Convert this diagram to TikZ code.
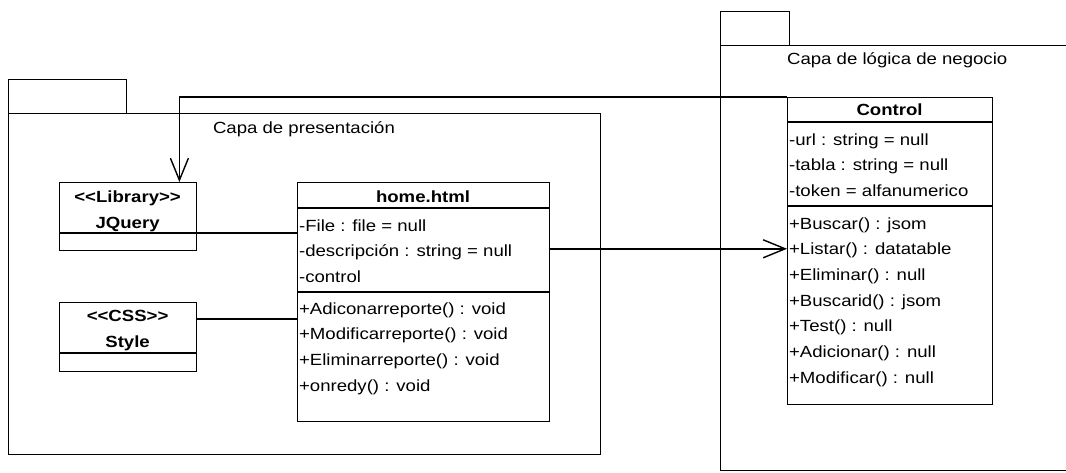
\documentclass[tikz,border=0pt]{standalone}
\usepackage{fontspec}
\setmainfont[FakeStretch=1.15]{Liberation Sans}
\usetikzlibrary{positioning, arrows.meta, calc}
\tikzstyle{pkg_box}=[draw, line width=1pt, inner sep=0pt, anchor=north west]
\tikzstyle{class_box}=[draw, line width=1pt, inner sep=0pt, anchor=north west]
\tikzstyle{member}=[anchor=base west, inner sep=0pt, font=\fontsize{11.5}{14}\selectfont]
\tikzstyle{class_title}=[anchor=base, inner sep=0pt, font=\fontsize{11.5}{14}\selectfont\bfseries]
\tikzstyle{pkg_title}=[anchor=base, inner sep=0pt, font=\fontsize{11.5}{14}\selectfont]
\tikzstyle{dep}=[-{Straight Barb[length=5.5mm, width=4.5mm]}, line width=1pt]

\begin{document}
\begin{tikzpicture}
    \useasboundingbox (0,0) rectangle (26.65,-11.8);

    % packages
    \node[pkg_box, minimum width=2.95cm, minimum height=0.85cm] at (0.2, -1.975) (presTab) {};
    \node[pkg_box, minimum width=14.8cm, minimum height=8.525cm] at (0.2, -2.825) (pres) {};
    \node[pkg_title] at (7.6, -3.325) (presName) {Capa de presentación};

    \node[pkg_box, minimum width=1.725cm, minimum height=0.85cm] at (18.0, -0.275) (logicTab) {};
    \node[pkg_box, minimum width=9.5cm, minimum height=10.625cm] at (18.0, -1.125) (logic) {};
    \node[pkg_title] at (22.43, -1.6) (logicName) {Capa de lógica de negocio};

    % classes
    \node[class_box, minimum width=3.425cm, minimum height=1.7cm] at (1.475, -4.55) (jq) {};
    \draw[line width=1pt] (jq.west |- 0,-5.825) -- (jq.east |- 0,-5.825);
    \node[class_title] at (3.19, -5.05) (jqSt) {<{}<Library>{}>};
    \node[class_title] at (3.19, -5.7) (jqName) {JQuery};

    \node[class_box, minimum width=3.425cm, minimum height=1.725cm] at (1.475, -7.55) (css) {};
    \draw[line width=1pt] (css.west |- 0,-8.825) -- (css.east |- 0,-8.825);
    \node[class_title] at (3.19, -8.025) (cssSt) {<{}<CSS>{}>};
    \node[class_title] at (3.19, -8.675) (cssName) {Style};

    \node[class_box, minimum width=6.3cm, minimum height=5.975cm] at (7.425, -4.55) (home) {};
    \draw[line width=1pt] (home.west |- 0,-5.2) -- (home.east |- 0,-5.2);
    \draw[line width=1pt] (home.west |- 0,-7.3) -- (home.east |- 0,-7.3);
    \node[class_title] at (10.575, -5.05) (homeName) {home.html};
    \foreach \t [count=\i] in {{-File : file = null}, {-descripción : string = null}, {-control}}
        \node[member] at (7.47, -5.775-0.6375*\i+0.6375) (homeA\i) {\t};
    \foreach \t [count=\i] in {{+Adiconarreporte() : void}, {+Modificarreporte() : void}, {+Eliminarreporte() : void}, {+onredy() : void}}
        \node[member] at (7.47, -7.85-0.642*\i+0.642) (homeM\i) {\t};

    \node[class_box, minimum width=5.125cm, minimum height=7.675cm] at (19.675, -2.425) (ctrl) {};
    \draw[line width=1pt] (ctrl.west |- 0,-3.05) -- (ctrl.east |- 0,-3.05);
    \draw[line width=1pt] (ctrl.west |- 0,-5.15) -- (ctrl.east |- 0,-5.15);
    \node[class_title] at (22.24, -2.88) (ctrlName) {Control};
    \foreach \t [count=\i] in {{-url : string = null}, {-tabla : string = null}, {-token = alfanumerico}}
        \node[member] at (19.72, -3.625-0.6375*\i+0.6375) (ctrlA\i) {\t};
    \foreach \t [count=\i] in {{+Buscar() : jsom}, {+Listar() : datatable}, {+Eliminar() : null}, {+Buscarid() : jsom}, {+Test() : null}, {+Adicionar() : null}, {+Modificar() : null}}
        \node[member] at (19.72, -5.725-0.6417*\i+0.6417) (ctrlM\i) {\t};

    % connectors
    \draw[line width=1pt] (jq.east |- 0,-5.825) -- (home.west |- 0,-5.825);
    \draw[line width=1pt] (css.east |- 0,-7.975) -- (home.west |- 0,-7.975);
    \draw[dep] (home.east |- 0,-6.22) -- (ctrl.west |- 0,-6.22);
    \draw[dep] (ctrl.north west) -| ([xshift=-0.45cm]jq.north east);
\end{tikzpicture}
\end{document}
